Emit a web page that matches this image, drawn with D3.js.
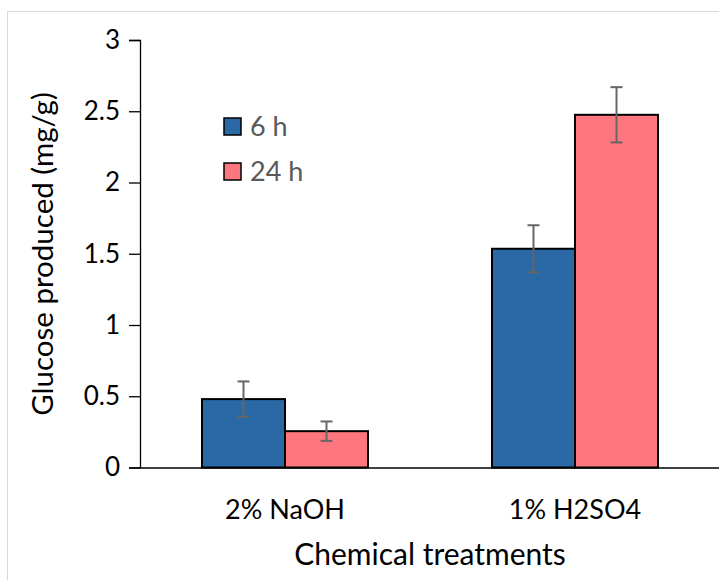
<!DOCTYPE html>
<html><head><meta charset="utf-8">
<script src="https://cdn.jsdelivr.net/npm/d3@7"></script>
<style>body{margin:0;background:#fff}svg{display:block}text{font-family:Lato,"Open Sans",sans-serif}</style>
</head><body><svg id="c" width="719" height="580"></svg>
<script>
const categories = ["2% NaOH", "1% H2SO4"];
const seriesNames = ["6 h", "24 h"];
const values6h = [0.48, 1.535];
const values24h = [0.255, 2.475];
const err6h = [0.124, 0.165];
const err24h = [0.068, 0.194];
const yTicks = [0, 0.5, 1, 1.5, 2, 2.5, 3];
const colors = ["#2A69A5", "#FF777E"];

const svg = d3.select("#c");
svg.append("rect").attr("x",7.5).attr("y",11.5).attr("width",730).attr("height",600)
  .attr("fill","#fff").attr("stroke","#d9d9d9").attr("stroke-width",1);

const x0 = 140, x1 = 720, yTop = 40, yBot = 467.5;
const x = d3.scaleBand().domain(categories).range([x0, x1]).paddingInner(0).paddingOuter(0);
const xs = d3.scaleBand().domain(seriesNames).range([0, x.bandwidth()]).paddingInner(0);
xs.paddingOuter((x.bandwidth()-166)/2/83);
const y = d3.scaleLinear().domain([0,3]).range([yBot, yTop]);

const series = [values6h, values24h];
const errs = [err6h, err24h];

seriesNames.forEach((s, si) => {
  svg.append("g").selectAll("rect").data(categories).join("rect")
    .attr("x", c => x(c) + xs(s))
    .attr("y", (c,i) => y(series[si][i]))
    .attr("width", xs.bandwidth())
    .attr("height", (c,i) => y(0) - y(series[si][i]))
    .attr("fill", colors[si]).attr("stroke", "#000").attr("stroke-width", 2);
});

const yAxis = d3.axisLeft(y).tickValues(yTicks).tickSize(11).tickPadding(9).tickFormat(d3.format("~g"));
const gy = svg.append("g").attr("transform", `translate(${x0},0)`).call(yAxis);
gy.select(".domain").attr("stroke","#000").attr("stroke-width",1.3);
gy.selectAll(".tick line").attr("stroke","#000").attr("stroke-width",1.3);
gy.selectAll(".tick text").attr("font-size",26).attr("fill","#000").attr("font-family","Lato, sans-serif");

const xAxis = d3.axisBottom(x).tickSize(0).tickPadding(32);
const gx = svg.append("g").attr("transform", `translate(0,${yBot})`).call(xAxis);
gx.select(".domain").attr("stroke","#000").attr("stroke-width",1.3);
gx.selectAll(".tick text").attr("font-size",27).attr("fill","#000").attr("font-family","Lato, sans-serif");

seriesNames.forEach((s, si) => {
  const g = svg.append("g").attr("stroke","#666").attr("stroke-width",2);
  categories.forEach((c, i) => {
    const cx = x(c) + xs(s) + xs.bandwidth()/2;
    const v = series[si][i], e = errs[si][i];
    g.append("line").attr("x1",cx).attr("x2",cx).attr("y1",y(v+e)).attr("y2",y(v-e));
    g.append("line").attr("x1",cx-6).attr("x2",cx+6).attr("y1",y(v+e)).attr("y2",y(v+e));
    g.append("line").attr("x1",cx-6).attr("x2",cx+6).attr("y1",y(v-e)).attr("y2",y(v-e));
  });
});

const lg = svg.append("g").attr("transform","translate(224,118)");
seriesNames.forEach((s, si) => {
  const row = lg.append("g").attr("transform", `translate(0,${si*45})`);
  row.append("rect").attr("width",17).attr("height",17).attr("fill",colors[si]).attr("stroke","#000").attr("stroke-width",1.5);
  row.append("text").attr("x",26).attr("y",8.5).attr("dy","0.36em").attr("font-size",27).attr("fill","#595959").text(s);
});

svg.append("text").attr("x",430).attr("y",565).attr("text-anchor","middle").attr("font-size",30).attr("fill","#000").text("Chemical treatments");
svg.append("text").attr("transform","translate(53,254) rotate(-90)").attr("text-anchor","middle").attr("font-size",29.5).attr("fill","#000").text("Glucose produced (mg/g)");
</script></body></html>
